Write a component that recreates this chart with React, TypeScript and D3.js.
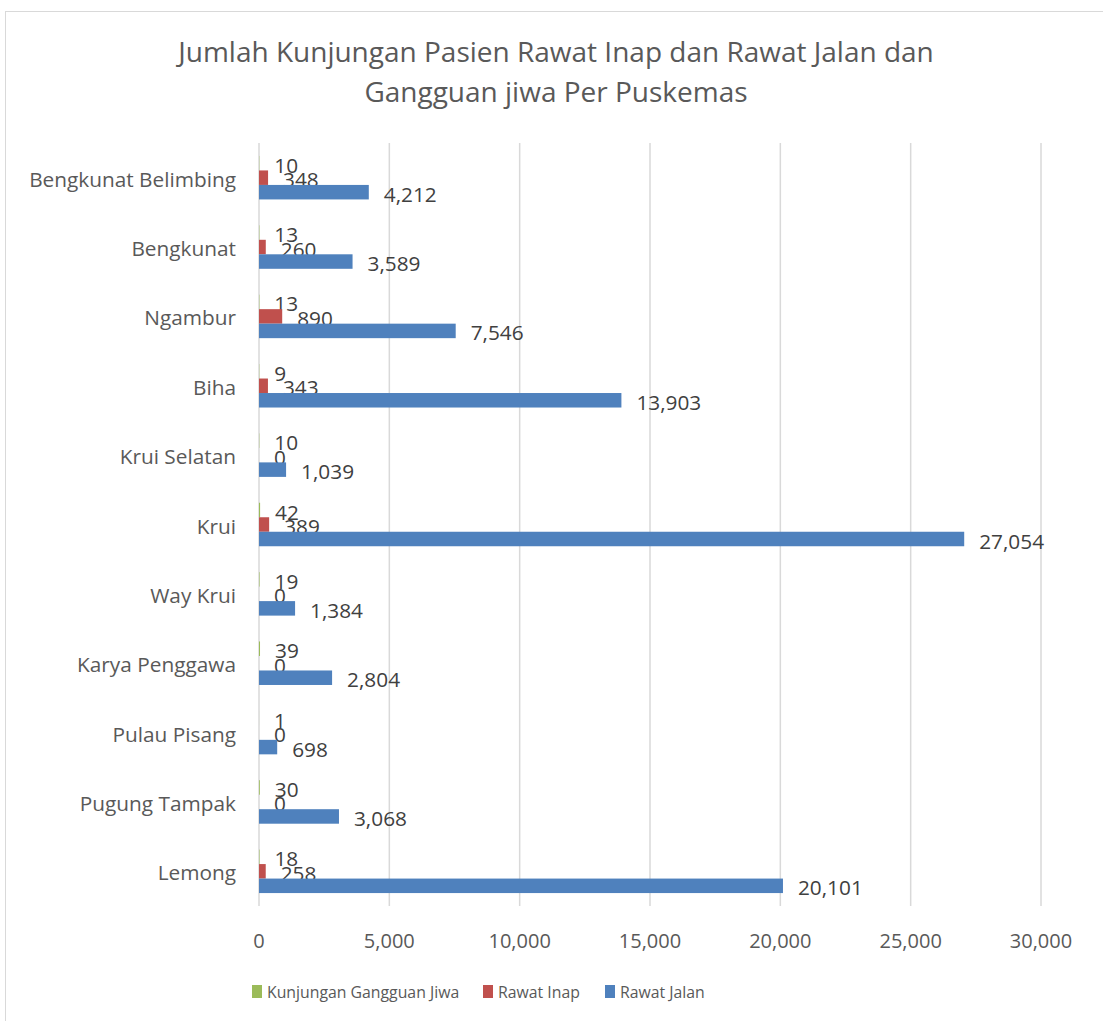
import React from "react";
import * as d3 from "d3";

const categories = [
  "Bengkunat Belimbing",
  "Bengkunat",
  "Ngambur",
  "Biha",
  "Krui Selatan",
  "Krui",
  "Way Krui",
  "Karya Penggawa",
  "Pulau Pisang",
  "Pugung Tampak",
  "Lemong",
];
const gangguanJiwa = [10, 13, 13, 9, 10, 42, 19, 39, 1, 30, 18];
const rawatInap = [348, 260, 890, 343, 0, 389, 0, 0, 0, 0, 258];
const rawatJalan = [4212, 3589, 7546, 13903, 1039, 27054, 1384, 2804, 698, 3068, 20101];
const seriesNames = ["Kunjungan Gangguan Jiwa", "Rawat Inap", "Rawat Jalan"];
const seriesColors = ["#9BBB59", "#C0504D", "#4F81BD"];
const xTicks = [0, 5000, 10000, 15000, 20000, 25000, 30000];

const W = 1103;
const H = 1021;
const FONT = "'Open Sans', sans-serif";

export default function App() {
  const x = d3.scaleLinear().domain([0, 30000]).range([259, 1041]);
  const y = d3.scaleBand<string>().domain(categories).range([143, 906]);
  const barH = 14.5;
  const seriesData = [gangguanJiwa, rawatInap, rawatJalan];
  const fmt = d3.format(",");

  return (
    <svg
      width={W}
      height={H}
      style={{ position: "absolute", left: 0, top: 0, display: "block", background: "#fff" }}
      fontFamily={FONT}
    >
      <rect x={5.5} y={11.5} width={1110} height={1020} fill="#fff" stroke="#D9D9D9" />
      <text x={556} y={62} textAnchor="middle" fontSize={28} fill="#595959">
        Jumlah Kunjungan Pasien Rawat Inap dan Rawat Jalan dan
      </text>
      <text x={556} y={102} textAnchor="middle" fontSize={28} fill="#595959">
        Gangguan jiwa Per Puskemas
      </text>

      {xTicks.map((t) => (
        <g key={t}>
          <line x1={x(t)} x2={x(t)} y1={143} y2={906} stroke="#D9D9D9" strokeWidth={1.5} />
          <text x={x(t)} y={940} textAnchor="middle" dominantBaseline="central" fontSize={20} fill="#595959">
            {fmt(t)}
          </text>
        </g>
      ))}

      {categories.map((c, i) => {
        const center = (y(c) as number) + y.bandwidth() / 2;
        return (
          <g key={c}>
            <text x={236} y={center + 1} textAnchor="end" dominantBaseline="central" fontSize={20.8} fill="#595959">
              {c}
            </text>
            {seriesData.map((s, k) => {
              const top = center - 1.5 * barH + k * barH;
              const v = s[i];
              return (
                <g key={k}>
                  <rect x={x(0)} y={top} width={Math.max(0, x(v) - x(0))} height={barH} fill={seriesColors[k]} />
                  <text
                    x={x(v) + 15}
                    y={top + barH / 2 + 1.5}
                    dominantBaseline="central"
                    fontSize={20.8}
                    fill="#404040"
                  >
                    {fmt(v)}
                  </text>
                </g>
              );
            })}
          </g>
        );
      })}

      {seriesNames.map((n, k) => {
        const lx = [252, 483, 605][k];
        return (
          <g key={n}>
            <rect x={lx} y={985} width={10} height={13} fill={seriesColors[k]} />
            <text x={lx + 15} y={992} dominantBaseline="central" fontSize={15.8} fill="#595959">
              {n}
            </text>
          </g>
        );
      })}
    </svg>
  );
}
